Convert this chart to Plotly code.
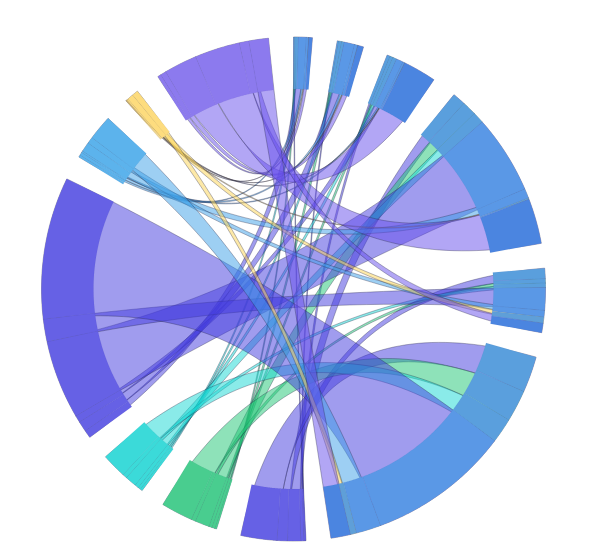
import numpy as np
import plotly.graph_objects as go

sources = ["P", "G", "C", "M", "L", "Y", "T"]
targets = ["B1", "B2", "B3", "B4", "B5", "B6"]

flow_P = [0.2, 0.3, 0.7, 3.0, 2.4, 8.3]
flow_G = [0.4, 0.7, 0.7, 3.3, 1.0, 7.3]
flow_C = [0.5, 0.6, 0.9, 2.6, 1.0, 5.7]
flow_M = [1.8, 2.4, 1.6, 18.1, 5.2, 32.7]
flow_L = [0.5, 0.7, 0.4, 2.2, 1.5, 5.7]
flow_Y = [0.1, 0.1, 0.1, 0.3, 1.4, 1.4]
flow_T = [0.8, 1.3, 7.6, 10.4, 2.2, 4.5]
flows = [flow_P, flow_G, flow_C, flow_M, flow_L, flow_Y, flow_T]

ribbon_colors = ["#4139dd", "#1dc573", "#15d7d3", "#4139dd", "#3b9fe7", "#fbd351", "#654deb"]
band_colors = ["#6661e5", "#49cd8f", "#3bdad9", "#6661e5", "#5cb3ec", "#fddc7e", "#8c7aee"]
target_band_colors = ["#5a9fdd", "#5a9fdd", "#5a9fdd", "#5a98e6", "#5a98e6", "#5f9fd8", "#4b85e0"]

W, H = 600, 552
CX, CY = 285.5, 281.0   # the page adds an 8 px body margin
R_OUT, R_IN = 252.0, 200.0
GAP = 5.7

M = np.array(flows, dtype=float)
scale = (360 - GAP * (len(sources) + len(targets))) / (2 * M.sum())


def pt(deg, r):
    a = np.radians(deg)
    return r * np.sin(a), r * np.cos(a)


def arc(a0, a1, r):
    n = int(abs(a1 - a0) * 4) + 8
    t = np.linspace(a0, a1, n)
    return pt(t, r)


def quad(a0, a1, r, n=60):
    x0, y0 = pt(a0, r)
    x1, y1 = pt(a1, r)
    t = np.linspace(0, 1, n)
    return (1 - t) ** 2 * x0 + (t ** 2) * x1, (1 - t) ** 2 * y0 + (t ** 2) * y1


def ring(a0, a1):
    xo, yo = arc(a0, a1, R_OUT)
    xi, yi = arc(a1, a0, R_IN)
    return np.r_[xo, xi, xo[0]], np.r_[yo, yi, yo[0]]


# layout clockwise from the top: targets first, then sources
pos = 0.0
t_arcs = {}
for j in range(len(targets)):
    for i in range(len(sources)):
        w = M[i, j] * scale
        t_arcs[(i, j)] = (pos, pos + w)
        pos += w
    pos += GAP
s_arcs = {}
for i in range(len(sources)):
    for j in range(len(targets)):
        w = M[i, j] * scale
        s_arcs[(i, j)] = (pos, pos + w)
        pos += w
    pos += GAP

fig = go.Figure()


def hexa(c, alpha):
    c = c.lstrip("#")
    return f"rgba({int(c[:2],16)},{int(c[2:4],16)},{int(c[4:],16)},{alpha})"


for i in range(len(sources)):
    for j in range(len(targets)):
        a0, a1 = s_arcs[(i, j)]
        b0, b1 = t_arcs[(i, j)]
        xa, ya = arc(a0, a1, R_OUT)
        x1, y1 = quad(a1, b0, R_OUT)
        xb, yb = arc(b0, b1, R_OUT)
        x2, y2 = quad(b1, a0, R_OUT)
        x = np.r_[xa, x1, xb, x2]
        y = np.r_[ya, y1, yb, y2]
        fig.add_trace(go.Scatter(
            x=CX + x, y=CY - y, mode="lines", fill="toself",
            fillcolor=hexa(ribbon_colors[i], 0.5),
            line=dict(color="rgba(40,40,70,0.42)", width=0.8, simplify=False),
            hoverinfo="skip", showlegend=False))

for (i, j), (a0, a1) in s_arcs.items():
    x, y = ring(a0, a1)
    fig.add_trace(go.Scatter(
        x=CX + x, y=CY - y, mode="lines", fill="toself",
        fillcolor=band_colors[i],
        line=dict(color="rgba(60,60,110,0.08)", width=0.6, simplify=False),
        hoverinfo="skip", showlegend=False))

for (i, j), (a0, a1) in t_arcs.items():
    x, y = ring(a0, a1)
    fig.add_trace(go.Scatter(
        x=CX + x, y=CY - y, mode="lines", fill="toself",
        fillcolor=target_band_colors[i],
        line=dict(color="rgba(60,60,110,0.08)", width=0.6, simplify=False),
        hoverinfo="skip", showlegend=False))

fig.update_layout(
    width=W, height=H, margin=dict(l=0, r=0, t=0, b=0),
    paper_bgcolor="white", plot_bgcolor="white", showlegend=False,
    xaxis=dict(range=[0, W], visible=False, fixedrange=True),
    yaxis=dict(range=[H, 0], visible=False, fixedrange=True),
)
fig.write_html("out.html", config={"displayModeBar": False})
